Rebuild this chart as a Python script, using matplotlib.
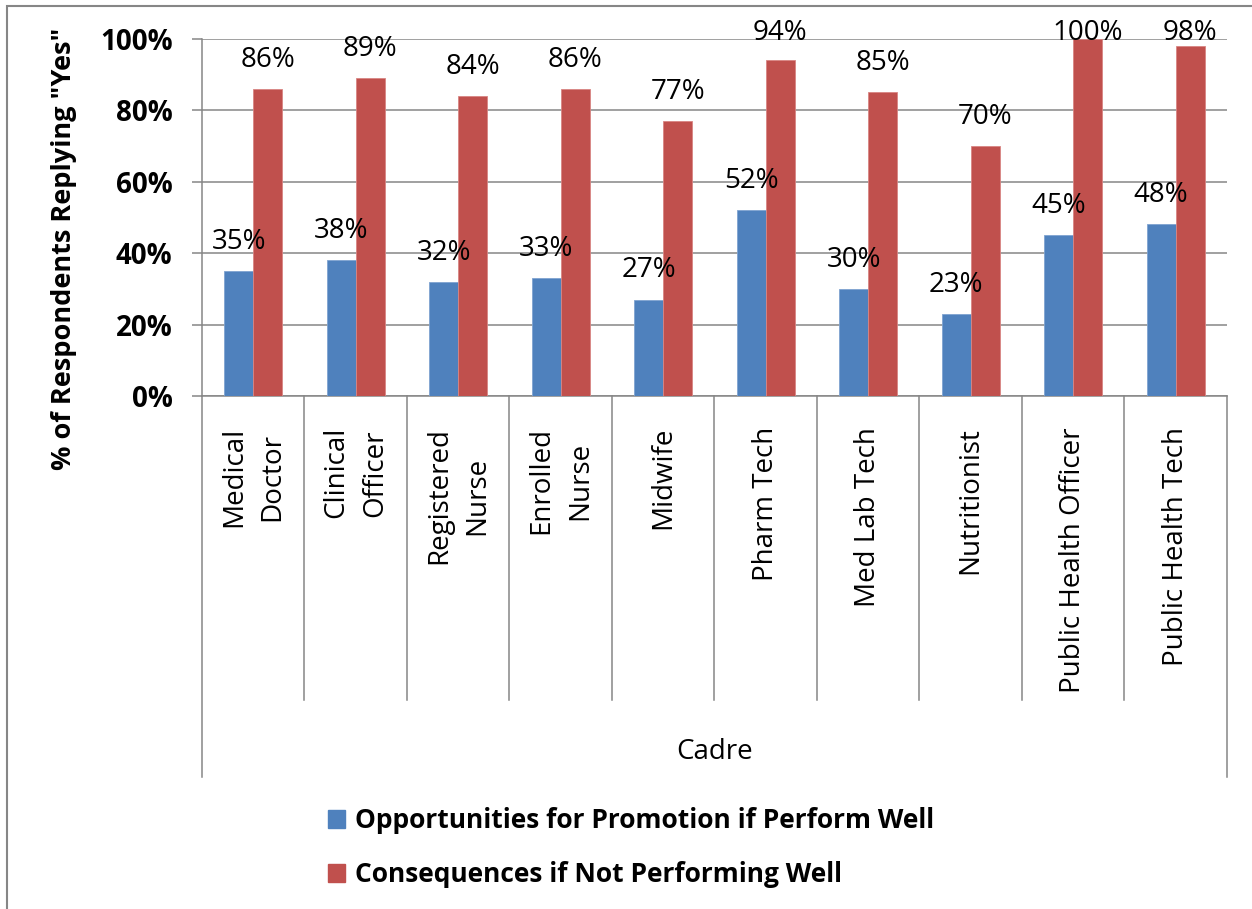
import numpy as np
import matplotlib
matplotlib.use("Agg")
from matplotlib import pyplot as plt
from matplotlib.patches import Rectangle

plt.rcParams['font.family'] = ['Open Sans', 'DejaVu Sans']

# 数据
cadres = ['Medical\nDoctor', 'Clinical\nOfficer', 'Registered\nNurse', 'Enrolled\nNurse',
          'Midwife', 'Pharm Tech', 'Med Lab Tech', 'Nutritionist',
          'Public Health Officer', 'Public Health Tech']
promotion = [35, 38, 32, 33, 27, 52, 30, 23, 45, 48]
consequences = [86, 89, 84, 86, 77, 94, 85, 70, 100, 98]
series_names = ['Opportunities for Promotion if Perform Well',
                'Consequences if Not Performing Well']
y_ticks = [0, 20, 40, 60, 80, 100]

blue = '#4F81BD'
red = '#C0504D'
grey = '#868686'

W, H = 1252, 909
fig = plt.figure(figsize=(W / 100, H / 100), dpi=100)
ax = fig.add_axes([202 / W, 1 - 396 / H, (1227 - 202) / W, (396 - 38.7) / H])

x = np.arange(len(cadres))
bw = 0.285
ax.bar(x - bw / 2, promotion, bw, color=blue, edgecolor='#7FA3D0', linewidth=0.6, zorder=3)
ax.bar(x + bw / 2, consequences, bw, color=red, edgecolor='#D98583', linewidth=0.6, zorder=3)

# 数值标签（顶部会被限制在图区内）
for xi, v in zip(x - bw / 2, promotion):
    ax.text(xi, min(v + 6.2, 99.6), f'{v}%', ha='center', va='baseline', fontsize=20, zorder=4)
for xi, v in zip(x + bw / 2, consequences):
    ax.text(xi, min(v + 6.2, 99.6), f'{v}%', ha='center', va='baseline', fontsize=20, zorder=4)

ax.set_xlim(-0.5, len(cadres) - 0.5)
ax.set_ylim(0, 100)
ax.set_yticks(y_ticks)
ax.set_yticklabels([f'{t}%' for t in y_ticks], fontsize=20, fontweight='bold')
ax.tick_params(axis='y', length=7.2, width=1.1, color=grey, pad=14)
ax.set_xticks([])
ax.yaxis.grid(True, color=grey, linewidth=1.1, zorder=0)
ax.set_axisbelow(True)
for s in ['top', 'right']:
    ax.spines[s].set_visible(False)
for s in ['left', 'bottom']:
    ax.spines[s].set_color(grey)
    ax.spines[s].set_linewidth(1.1)

# 分类标签和分隔线
tr = ax.get_xaxis_transform()
for i, name in enumerate(cadres):
    ax.text(i, -0.087, name, transform=tr, rotation=90, ha='center', va='top',
            multialignment='center', fontsize=20, linespacing=1.5)
for b in np.arange(-0.5, len(cadres), 1.0):
    bottom = -1.066 if b in (-0.5, len(cadres) - 0.5) else -0.851
    ax.plot([b, b], [0, bottom], transform=tr, color=grey, lw=1.1, clip_on=False)
ax.text(0.5, -0.995, 'Cadre', transform=ax.transAxes, ha='center', va='center', fontsize=20)

fig.text(64 / W, 1 - 249 / H, '% of Respondents Replying "Yes"', rotation=90,
         ha='center', va='center', fontsize=19.5, fontweight='bold')

# 图例
handles = [Rectangle((0, 0), 1, 1, color=blue), Rectangle((0, 0), 1, 1, color=red)]
fig.legend(handles, series_names, loc='upper left', bbox_to_anchor=(315 / W, 1 - 794 / H),
           frameon=False, prop={'size': 19, 'weight': 'bold'}, handlelength=0.65,
           handleheight=0.7, handletextpad=0.35, labelspacing=1.03, borderpad=0)

# 外框
fig.add_artist(Rectangle((7 / W, -0.1), 1.2, 1.1 - 6 / H, transform=fig.transFigure,
                         fill=False, edgecolor=grey, linewidth=1.5))

plt.savefig('out.png', dpi=100)
